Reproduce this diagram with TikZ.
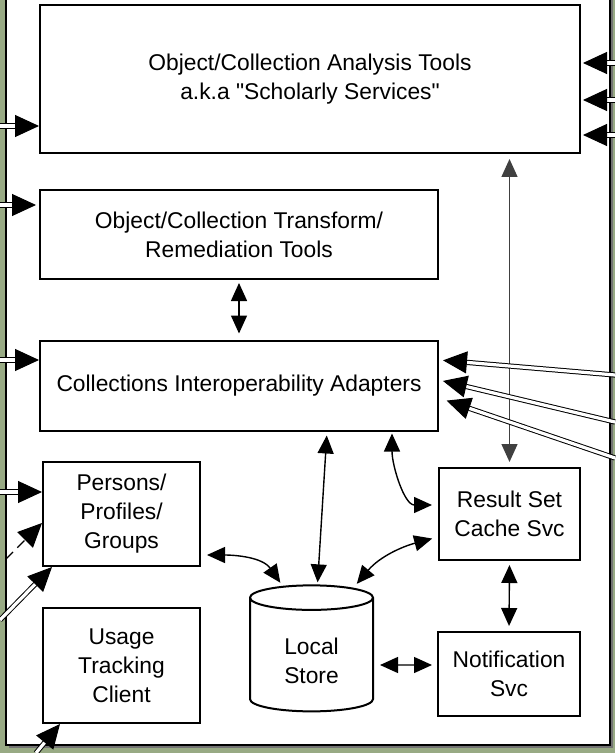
\documentclass[tikz,border=0pt]{standalone}
\usepackage{fontspec}
\setmainfont{Liberation Sans}
\usetikzlibrary{arrows.meta,shapes.geometric,calc}
\definecolor{sage}{RGB}{152,170,132}

\begin{document}
\begin{tikzpicture}[x=0.5pt,y=-0.5pt,
  box/.style={draw,line width=1pt,align=center,inner sep=0pt,
    font=\fontsize{11.4}{14.5}\selectfont},
  link/.style={line width=0.7pt,{Triangle[length=9pt,width=8pt]}-{Triangle[length=9pt,width=8pt]}},
  feed/.style={double,double distance=1.6pt,line width=0.5pt,-{Triangle[length=12pt,width=11pt]}}]
\useasboundingbox (0,0) rectangle (615,753);
\fill[sage] (0,0) rectangle (615,753);
\fill[black!55] (9,-5) rectangle (613,748);
\draw[fill=white,line width=1pt] (6,-8) rectangle (610,745);

\node[box,minimum width=270pt,minimum height=74pt] (tools) at (310,79)
  {Object/Collection Analysis Tools\\a.k.a \textquotedbl Scholarly Services\textquotedbl};
\node[box,minimum width=199pt,minimum height=44.5pt] (transform) at (239,234.5)
  {Object/Collection Transform/\\Remediation Tools};
\node[box,minimum width=199pt,minimum height=45pt] (adapters) at (239,385.5)
  {Collections Interoperability Adapters};
\node[box,minimum width=78.5pt,minimum height=52pt] (persons) at (121.5,514)
  {Persons/\\Profiles/\\Groups};
\node[box,minimum width=78.5pt,minimum height=57.5pt] (usage) at (121.5,665.5)
  {Usage\\Tracking\\Client};
\node[box,cylinder,shape border rotate=90,aspect=0.45,minimum width=61.5pt,
  minimum height=63pt] (store) at (311.5,655) {\rule{0pt}{14pt}Local\\Store};
\node[box,minimum width=70.5pt,minimum height=46pt] (cache) at (509.5,514)
  {Result Set\\Cache Svc};
\node[box,minimum width=71pt,minimum height=42pt] (notify) at (509,674)
  {Notification\\Svc};

% links inside
\draw[link,shorten <=1.5pt,shorten >=3pt] (transform.south) -- (adapters.north);
\draw[link,black!75,shorten <=2.5pt,shorten >=2.5pt] (tools.south -| cache.north) -- (cache.north);
\draw[link,shorten <=2pt,shorten >=1pt] ($(adapters.south)+(88,0)$) -- ($(store.north)+(6,0)$);
\draw[link,shorten <=1pt,shorten >=3pt] ($(adapters.south)+(153,0)$) to[out=-90,in=180] ($(cache.west)+(0,-9)$);
\draw[link,shorten <=3pt,shorten >=1pt] ($(persons.east)+(0,41)$) to[out=0,in=125] ($(store.north)+(-30,0)$);
\draw[link,shorten <=3pt,shorten >=1pt] ($(cache.west)+(0,23)$) to[out=195,in=50] ($(store.north)+(44,1)$);
\draw[link,shorten <=2pt,shorten >=2.5pt] (cache.south) -- (notify.north);
\draw[link,shorten <=3pt,shorten >=2.5pt] ($(store.east)+(0,10)$) -- ($(notify.west)+(0,-9)$);

% feeds from outside
\coordinate (in1) at (0,126);
\coordinate (in2) at (0,205);
\coordinate (in3) at (0,360);
\coordinate (in4) at (0,492);
\coordinate (in5) at (6,559);
\coordinate (in6) at (0,620);
\coordinate (in7) at (36,753);
\coordinate (out1) at (615,63);
\coordinate (out2) at (615,100);
\coordinate (out3) at (615,135);
\coordinate (out4) at (615,375);
\coordinate (out5) at (615,422);
\coordinate (out6) at (615,458);
\draw[feed] (in1) -- (tools.west |- in1);
\draw[feed,shorten >=1.5pt] (in2) -- (transform.west |- in2);
\draw[feed] (in3) -- (adapters.west |- in3);
\draw[feed] (in4) -- (persons.west |- in4);
\draw[line width=0.6pt,dash pattern=on 5pt off 3pt,-{Triangle[length=12pt,width=11pt]}] (in5) -- ($(persons.west)+(0,9)$);
\draw[feed] (in6) -- ($(persons.south west)+(10,0)$);
\draw[feed] (in7) -- ($(usage.south west)+(18,0)$);
\draw[feed,shorten >=1pt] (out1) -- (tools.east |- out1);
\draw[feed,shorten >=1pt] (out2) -- (tools.east |- out2);
\draw[feed,shorten >=1pt] (out3) -- (tools.east |- out3);
\draw[feed,shorten >=2pt] (out4) -- ($(adapters.east)+(0,-25.5)$);
\draw[feed,shorten >=2pt] (out5) -- ($(adapters.east)+(0,-5.5)$);
\draw[feed,shorten >=4pt] (out6) -- ($(adapters.east)+(0,12.5)$);
\end{tikzpicture}
\end{document}
